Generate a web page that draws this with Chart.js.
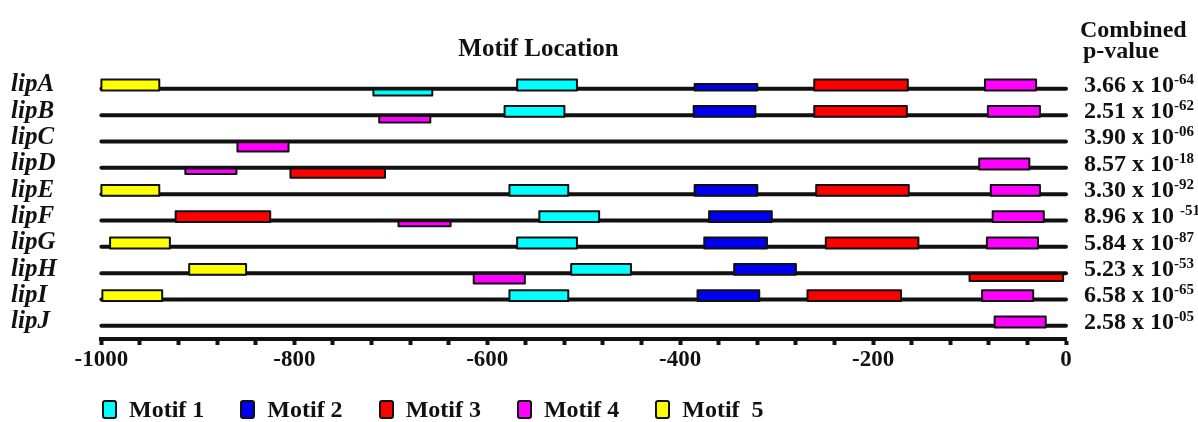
<!DOCTYPE html>
<html lang="en">
<head>
<meta charset="UTF-8">
<title>Motif Location</title>
<script src="https://cdn.jsdelivr.net/npm/chart.js@4.4.0/dist/chart.umd.min.js"></script>
<style>
  html, body { margin: 0; padding: 0; background: #fff; }
  #wrap { position: relative; width: 1198px; height: 422px; }
  #legend { position: absolute; left: 102px; top: 396px; display: flex; gap: 36px;
            font: bold 24px "Liberation Serif", serif; color: #111; white-space: pre; }
  .item { display: flex; align-items: center; }
  .box { width: 15px; height: 19px; border: 2px solid #111; border-radius: 3px;
         box-sizing: border-box; margin-right: 12px; }
</style>
</head>
<body>
<div id="wrap">
  <canvas id="chart" width="1198" height="422"></canvas>
  <div id="legend"></div>
</div>
<script>
// rows, top to bottom
const genes = ['lipA', 'lipB', 'lipC', 'lipD', 'lipE', 'lipF', 'lipG', 'lipH', 'lipI', 'lipJ'];
const pBase = ['3.66 x 10', '2.51 x 10', '3.90 x 10', '8.57 x 10', '3.30 x 10',
               '8.96 x 10 ', '5.84 x 10', '5.23 x 10', '6.58 x 10', '2.58 x 10'];
const pExponent = ['-64', '-62', '-06', '-18', '-92', '-51', '-87', '-53', '-65', '-05'];

// motif hits (one entry per block)
const hitGene   = [0, 0, 0, 0, 0, 0,   1, 1, 1, 1, 1,   2,   3, 3, 3,   4, 4, 4, 4, 4,
                   5, 5, 5, 5, 5,   6, 6, 6, 6, 6,   7, 7, 7, 7, 7,   8, 8, 8, 8, 8,   9];
const hitMotif  = [5, 1, 1, 2, 3, 4,   4, 1, 2, 3, 4,   4,   4, 3, 4,   5, 1, 2, 3, 4,
                   3, 4, 1, 2, 4,   5, 1, 2, 3, 4,   5, 4, 1, 2, 3,   5, 1, 2, 3, 4,   4];
const hitStart  = [-1000, -718, -569, -385, -261, -84,   -712, -582, -386, -261, -81,   -859,
                   -913, -804, -90,   -1000, -577, -385, -259, -78,
                   -923, -692, -546, -370, -76,   -991, -569, -375, -249, -82,
                   -909, -614, -513, -344, -100,   -999, -577, -382, -268, -87,   -74];
const hitEnd    = [-940, -657, -507, -320, -164, -31,   -659, -520, -322, -165, -27,   -806,
                   -860, -706, -38,   -940, -516, -320, -163, -27,
                   -825, -638, -484, -305, -23,   -929, -507, -310, -153, -29,
                   -850, -561, -451, -280, -3,   -937, -516, -318, -171, -34,   -21];
const hitStrand = ['+', '-', '+', '+', '+', '+',   '-', '+', '+', '+', '+',   '-',
                   '-', '-', '+',   '+', '+', '+', '+', '+',
                   '+', '-', '+', '+', '+',   '+', '+', '+', '+', '+',
                   '+', '-', '+', '+', '-',   '+', '+', '+', '+', '+',   '+'];
const hitStrength = [1, 0.55, 1, 0.6, 1, 1,   0.6, 1, 1, 1, 1,   0.85,
                     0.5, 0.85, 1,   1, 1, 1, 1, 1,
                     1, 0.45, 1, 1, 1,   1, 1, 1, 1, 1,
                     1, 0.88, 1, 1, 0.65,   1, 1, 1, 1, 1,   1];

const motifNames = ['Motif 1', 'Motif 2', 'Motif 3', 'Motif 4', 'Motif  5'];
const motifColors = ['#00ffff', '#0000f0', '#ff0000', '#ff00ff', '#ffff00'];

const axisLabels = [-1000, -800, -600, -400, -200, 0];
const minorStep = 40;

const INK = '#111';
const SERIF = '"Liberation Serif", serif';
const BAR_FULL = 0.41;    // row units for a full height block
const ABOVE_BASE = 0.06;  // + strand blocks sit just below the line centre

Chart.defaults.font.family = SERIF;
Chart.defaults.color = INK;

const datasets = [];

// gene lines
genes.forEach((g, i) => {
  datasets.push({
    label: g,
    data: [{ x: -1000, y: i }, { x: 0, y: i }],
    showLine: true,
    borderColor: INK,
    borderWidth: 4,
    borderCapStyle: 'round',
    pointRadius: 0,
    fill: false,
    order: 2,
    clip: false
  });
});

// motif blocks
hitStart.forEach((s, k) => {
  const row = hitGene[k];
  const e = hitEnd[k];
  const h = hitStrength[k] * BAR_FULL;
  let top, bottom;
  if (hitStrand[k] === '+') {
    bottom = row + ABOVE_BASE;
    top = bottom - h;
  } else {
    top = row + 0.03;
    bottom = top + h;
  }
  datasets.push({
    label: motifNames[hitMotif[k] - 1],
    data: [{ x: s, y: bottom }, { x: e, y: bottom }, { x: e, y: top }, { x: s, y: top }, { x: s, y: bottom }],
    showLine: true,
    backgroundColor: motifColors[hitMotif[k] - 1],
    borderColor: INK,
    borderWidth: 2,
    borderJoinStyle: 'round',
    fill: 'shape',
    pointRadius: 0,
    tension: 0,
    order: 1,
    clip: false
  });
});

// p-values on the right
const pvaluePlugin = {
  id: 'pvalues',
  afterDraw(chart) {
    const { ctx, chartArea, scales } = chart;
    const y = scales.y;
    const x0 = chartArea.right + 18;
    ctx.save();
    ctx.fillStyle = INK;
    ctx.textAlign = 'left';
    ctx.textBaseline = 'alphabetic';
    ctx.font = 'bold 24px ' + SERIF;
    ctx.fillText('Combined', chartArea.right + 14, 37);
    ctx.fillText('p-value', chartArea.right + 17, 58);
    genes.forEach((g, i) => {
      const yy = y.getPixelForValue(i);
      ctx.font = 'bold 24px ' + SERIF;
      ctx.fillText(pBase[i], x0, yy + 3);
      const w = ctx.measureText(pBase[i]).width;
      ctx.font = 'bold 15px ' + SERIF;
      ctx.fillText(pExponent[i], x0 + w, yy - 5);
    });
    ctx.restore();
  }
};

new Chart(document.getElementById('chart'), {
  type: 'scatter',
  data: { datasets },
  options: {
    responsive: false,
    animation: false,
    events: [],
    layout: { padding: { left: 11, right: 132, top: 0, bottom: 0 } },
    plugins: {
      legend: { display: false },
      tooltip: { enabled: false },
      title: {
        display: true,
        text: 'Motif Location',
        color: INK,
        font: { family: SERIF, size: 25, weight: 'bold' },
        padding: { top: 35, bottom: 8 }
      }
    },
    scales: {
      x: {
        type: 'linear',
        min: -1000,
        max: 0,
        afterBuildTicks: s => {
          const t = [];
          for (let v = -1000; v <= 0; v += minorStep) t.push({ value: v });
          s.ticks = t;
        },
        afterFit: s => { s.height = 83; },
        ticks: {
          autoSkip: false,
          maxRotation: 0,
          padding: 1,
          color: INK,
          font: { family: SERIF, size: 23, weight: 'bold' },
          callback: v => axisLabels.includes(v) ? String(v) : ''
        },
        grid: { drawOnChartArea: false, drawTicks: true, tickLength: 6, tickWidth: 4, tickColor: INK },
        border: { display: true, width: 4, color: INK }
      },
      y: {
        type: 'linear',
        reverse: true,
        min: -0.6,
        max: 9.5,
        afterBuildTicks: s => { s.ticks = genes.map((g, i) => ({ value: i })); },
        afterFit: s => { s.width = 90.4; },
        ticks: {
          autoSkip: false,
          color: INK,
          crossAlign: 'far',
          labelOffset: -4,
          padding: 0,
          font: { family: SERIF, size: 25, weight: 'bold', style: 'italic' },
          callback: v => genes[v]
        },
        grid: { display: false },
        border: { display: false }
      }
    }
  },
  plugins: [pvaluePlugin]
});

// legend
const legend = document.getElementById('legend');
motifNames.forEach((name, i) => {
  const item = document.createElement('div');
  item.className = 'item';
  const box = document.createElement('span');
  box.className = 'box';
  box.style.background = motifColors[i];
  const label = document.createElement('span');
  label.textContent = name;
  item.appendChild(box);
  item.appendChild(label);
  legend.appendChild(item);
});
</script>
</body>
</html>
